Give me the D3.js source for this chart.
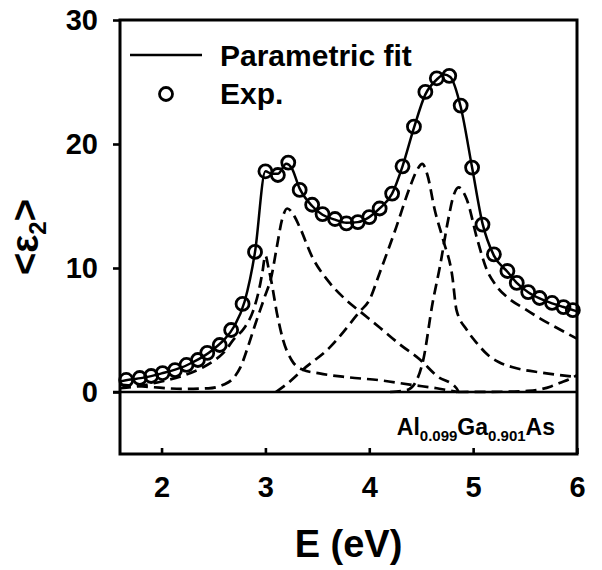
<!DOCTYPE html>
<html><head><meta charset="utf-8">
<script src="https://cdn.jsdelivr.net/npm/d3@7"></script>
<style>
body{margin:0;background:#fff}
text{font-family:"Liberation Sans",Arial,Helvetica,sans-serif;font-weight:bold;fill:#000}
</style>
</head><body>
<svg id="c" width="602" height="570"></svg>
<script>
// ---- data ----
const xTicks = [2, 3, 4, 5, 6];
const yTicks = [0, 10, 20, 30];
const legendLabels = ["Parametric fit", "Exp."];

const expE = [1.66,1.79,1.90,2.01,2.13,2.24,2.35,2.44,2.56,2.67,2.78,2.90,3.00,3.12,3.22,3.33,3.45,3.55,3.67,3.78,3.89,4.00,4.10,4.22,4.32,4.43,4.54,4.65,4.77,4.88,4.99,5.09,5.20,5.33,5.42,5.53,5.64,5.76,5.87,5.96];
const expV = [0.97,1.13,1.29,1.53,1.77,2.18,2.58,3.15,3.79,5.0,7.1,11.3,17.8,17.5,18.5,16.3,15.1,14.35,13.95,13.6,13.7,14.1,14.8,16.0,18.2,21.4,24.2,25.3,25.5,23.1,18.1,13.5,11.1,9.76,8.8,8.06,7.58,7.18,6.85,6.6];

const fitE = [1.6,1.7,1.8,1.9,2.0,2.1,2.2,2.3,2.4,2.5,2.6,2.7,2.8,2.9,3.0,3.06,3.12,3.2,3.25,3.33,3.45,3.55,3.67,3.78,3.89,4.0,4.1,4.22,4.32,4.43,4.54,4.65,4.72,4.78,4.88,4.99,5.09,5.2,5.33,5.42,5.53,5.64,5.76,5.87,6.0];
const fitV = [0.85,1.0,1.12,1.28,1.5,1.72,2.0,2.4,2.85,3.45,4.2,5.3,7.3,11.3,17.8,17.6,17.6,18.4,18.1,16.4,15.0,14.3,13.9,13.65,13.7,14.1,14.8,16.0,18.2,21.3,24.0,25.2,25.6,25.4,23.0,18.1,13.6,11.0,9.7,8.8,8.05,7.55,7.15,6.85,6.5];

// dashed oscillator components
const compE1E  = [1.6,1.8,2.0,2.2,2.4,2.5,2.6,2.7,2.8,2.88,2.94,2.97,3.0,3.03,3.06,3.11,3.17,3.25,3.36,3.52,3.78,4.1,4.42,4.65,4.85];
const compE1V  = [0.3,0.5,0.85,1.3,2.0,2.5,3.2,4.3,5.2,6.5,8.3,9.6,11.0,10.0,8.8,6.4,4.2,2.6,1.8,1.5,1.2,0.95,0.56,0.3,0.0];
const compE1dE = [1.6,1.9,2.2,2.45,2.6,2.7,2.76,2.83,2.9,2.99,3.06,3.11,3.16,3.21,3.27,3.33,3.45,3.6,3.78,3.91,4.1,4.3,4.49,4.65,4.84,4.86];
const compE1dV = [0.6,0.4,0.25,0.3,0.6,1.2,2.0,3.6,5.4,7.6,9.4,11.7,13.9,14.8,14.3,13.3,10.9,9.0,7.4,6.5,5.2,3.8,2.6,1.3,0.3,0.0];
const compE0pE = [3.1,3.2,3.36,3.62,3.91,4.0,4.1,4.26,4.39,4.46,4.51,4.56,4.63,4.71,4.8,4.84,4.94,5.04,5.14,5.25,5.4,5.67,6.0];
const compE0pV = [0.0,0.6,1.8,3.6,6.5,7.4,9.6,13.3,16.5,17.9,18.4,17.5,14.7,12.3,9.3,6.6,5.0,3.9,3.0,2.4,1.95,1.55,1.2];
const compE2E  = [4.2,4.36,4.44,4.52,4.61,4.68,4.76,4.81,4.86,4.94,5.04,5.13,5.22,5.35,5.5,5.65,5.8,6.0];
const compE2V  = [0.0,0.15,0.7,2.6,7.2,10.1,13.9,15.8,16.5,15.5,12.3,9.9,8.6,7.5,6.7,5.9,5.2,4.3];
const compE1pE = [4.85,5.3,5.5,5.64,5.75,5.84,5.92,6.0];
const compE1pV = [0.0,0.02,0.08,0.2,0.45,0.75,1.0,1.35];

const components = [
  [compE1E, compE1V], [compE1dE, compE1dV], [compE0pE, compE0pV],
  [compE2E, compE2V], [compE1pE, compE1pV]
];

// ---- drawing ----
const svg = d3.select("#c");
const L = 120, R = 577, T = 20, B = 454;
const x = d3.scaleLinear().domain([1.6, 6]).range([L, R]);
const y = d3.scaleLinear().domain([-5, 30]).range([B, T]);

svg.append("defs").append("clipPath").attr("id","clip")
  .append("rect").attr("x",L).attr("y",T).attr("width",R-L).attr("height",B-T);

const line = d3.line().x(d => x(d[0])).y(d => y(d[1])).curve(d3.curveMonotoneX);
const plot = svg.append("g").attr("clip-path","url(#clip)");

// zero line
svg.append("line").attr("x1", L - 7).attr("x2", R).attr("y1", y(0)).attr("y2", y(0))
  .attr("stroke","#000").attr("stroke-width",2.5);

components.forEach(([es, vs]) => {
  plot.append("path").datum(es.map((e,i)=>[e, vs[i]]))
    .attr("d", line).attr("fill","none").attr("stroke","#000")
    .attr("stroke-width",2.7).attr("stroke-dasharray","11,6");
});

plot.append("path").datum(fitE.map((e,i)=>[e, fitV[i]]))
  .attr("d", line)
  .attr("fill","none").attr("stroke","#000").attr("stroke-width",2.5);

svg.append("g").selectAll("circle").data(expE.map((e,i)=>[e, expV[i]])).join("circle")
  .attr("cx", d=>x(d[0])).attr("cy", d=>y(d[1])).attr("r", 6.5)
  .attr("fill","none").attr("stroke","#000").attr("stroke-width",2.8);

// frame
svg.append("rect").attr("x",L).attr("y",T).attr("width",R-L).attr("height",B-T)
  .attr("fill","none").attr("stroke","#000").attr("stroke-width",3);

// axes
const yAx = svg.append("g").attr("transform",`translate(${L},0)`)
  .call(d3.axisLeft(y).tickValues(yTicks).tickSize(7).tickPadding(15).tickFormat(d3.format("d")));
const xAx = svg.append("g").attr("transform",`translate(0,${B})`)
  .call(d3.axisBottom(x).tickValues(xTicks).tickSize(-6).tickPadding(22).tickFormat(d3.format("d")));
[yAx, xAx].forEach(g => {
  g.select(".domain").remove();
  g.selectAll(".tick line").attr("stroke","#000").attr("stroke-width",2.6);
  g.selectAll(".tick text").attr("font-size",29).attr("font-family",null).style("font-weight","bold");
});

// axis titles
svg.append("text").attr("x",(L+R)/2).attr("y",557).attr("text-anchor","middle")
  .attr("font-size",38).text("E (eV)");
const yt = svg.append("text").attr("transform",`translate(38,${(T+B)/2}) rotate(-90)`)
  .attr("text-anchor","middle").attr("font-size",38);
yt.append("tspan").text("<ε");
yt.append("tspan").attr("font-size",24).attr("dy",8).text("2");
yt.append("tspan").attr("dy",-8).text(">");

// legend
svg.append("line").attr("x1",130).attr("x2",202).attr("y1",55).attr("y2",55)
  .attr("stroke","#000").attr("stroke-width",2.5);
svg.append("text").attr("x",220).attr("y",66).attr("font-size",30).text(legendLabels[0]);
svg.append("circle").attr("cx",166).attr("cy",94).attr("r",6.5)
  .attr("fill","none").attr("stroke","#000").attr("stroke-width",2.8);
svg.append("text").attr("x",220).attr("y",104).attr("font-size",30).text(legendLabels[1]);

// material annotation
const ann = svg.append("text").attr("x",555).attr("y",435).attr("text-anchor","end").attr("font-size",23);
ann.append("tspan").text("Al");
ann.append("tspan").attr("font-size",15).attr("dy",6).text("0.099");
ann.append("tspan").attr("dy",-6).text("Ga");
ann.append("tspan").attr("font-size",15).attr("dy",6).text("0.901");
ann.append("tspan").attr("dy",-6).text("As");
</script>
</body></html>
